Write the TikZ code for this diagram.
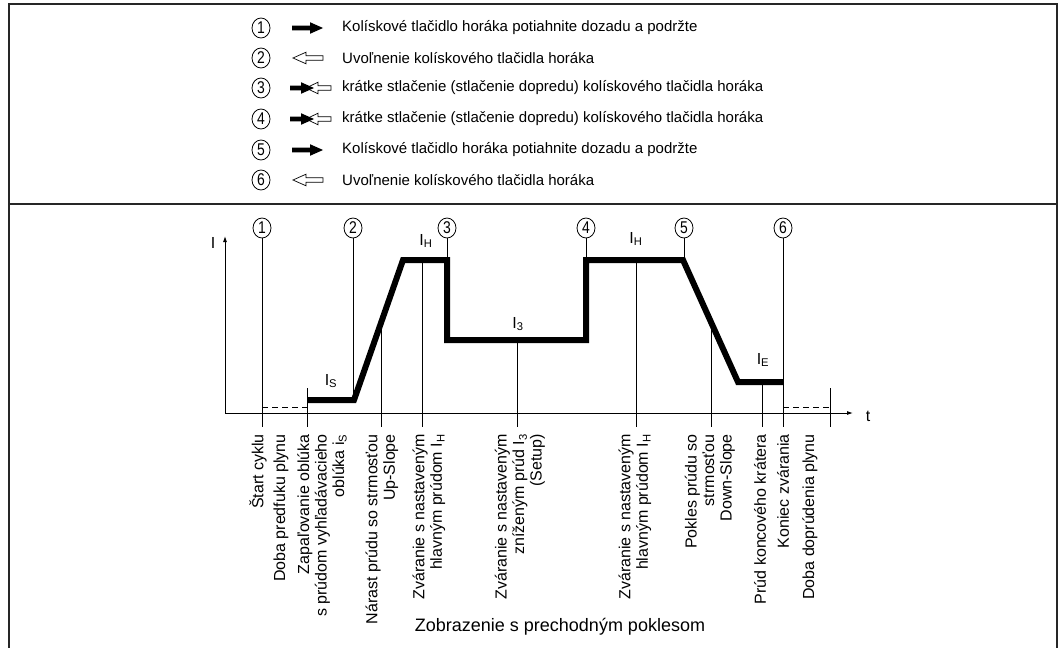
\documentclass[tikz,border=0pt]{standalone}
\usepackage{fontspec}
\setmainfont{Liberation Sans}
\usetikzlibrary{calc,arrows.meta,shapes.geometric}

\newcommand{\cnum}[1]{\scalebox{0.82}[1]{#1}}

\tikzset{
  frameline/.style={line width=2pt, draw=black!85},
  num/.style={ellipse, draw, line width=0.8pt, inner sep=0pt,
              minimum width=18pt, minimum height=20pt,
              font=\fontsize{17}{17}\selectfont},
  legtext/.style={anchor=west, inner sep=0pt, font=\fontsize{15}{18}\selectfont},
  thinline/.style={line width=0.9pt},
  trace/.style={line width=6pt},
  gasline/.style={line width=0.9pt, dash pattern=on 6pt off 4pt},
  axisline/.style={line width=0.9pt},
  phase/.style={rotate=90, anchor=east, align=right, inner sep=0pt,
                font=\fontsize{16}{17.5}\selectfont},
  curlab/.style={inner sep=0pt, font=\fontsize{16}{16}\selectfont},
  caption/.style={inner sep=0pt, font=\fontsize{18}{20}\selectfont},
  % solid arrow: pull the torch trigger back and hold
  pullarrow/.pic={
    \fill (0,-2.3) -- (18,-2.3) -- (18,-5.8) -- (31,0) -- (18,5.8) -- (18,2.3) -- (0,2.3) -- cycle;
  },
  % outlined arrow: release the trigger
  releasearrow/.pic={
    \filldraw[fill=white, line width=0.7pt]
      (0,0) -- (13,-5.8) -- (13,-2.3) -- (30,-2.3) -- (30,2.3) -- (13,2.3) -- (13,5.8) -- cycle;
  },
  % both arrows: short push forward
  pusharrow/.pic={
    \filldraw[fill=white, line width=0.7pt]
      (16,0) -- (28,-5.8) -- (28,-2.3) -- (41,-2.3) -- (41,2.3) -- (28,2.3) -- (28,5.8) -- cycle;
    \fill (0,-2.3) -- (11,-2.3) -- (11,-5.8) -- (24,0) -- (11,5.8) -- (11,2.3) -- (0,2.3) -- cycle;
  }
}

\begin{document}
\begin{tikzpicture}[x=1pt, y=-1pt]
\useasboundingbox (0,0) rectangle (1058,648);

% frame and divider
\draw[frameline] (9,660) -- (9,3.5) -- (1057,3.5) -- (1057,660);
\draw[frameline] (9,204) -- (1057,204);

% ---------- legend ----------
\node[num] (l1) at (261,28)  {\cnum{1}};
\node[num] (l2) at (261,58)  {\cnum{2}};
\node[num] (l3) at (261,88)  {\cnum{3}};
\node[num] (l4) at (261,119) {\cnum{4}};
\node[num] (l5) at (261,150) {\cnum{5}};
\node[num] (l6) at (261,180) {\cnum{6}};

\pic at (292,28)  {pullarrow};
\pic at (293,58)  {releasearrow};
\pic at (290,88)  {pusharrow};
\pic at (290,119) {pusharrow};
\pic at (292,150) {pullarrow};
\pic at (293,180) {releasearrow};

\node[legtext] (t1) at (342,28)  {Kolískové tlačidlo horáka potiahnite dozadu a podržte};
\node[legtext] (t2) at (342,58)  {Uvoľnenie kolískového tlačidla horáka};
\node[legtext] (t3) at (342,88)  {krátke stlačenie (stlačenie dopredu) kolískového tlačidla horáka};
\node[legtext] (t4) at (342,119) {krátke stlačenie (stlačenie dopredu) kolískového tlačidla horáka};
\node[legtext] (t5) at (342,150) {Kolískové tlačidlo horáka potiahnite dozadu a podržte};
\node[legtext] (t6) at (342,180) {Uvoľnenie kolískového tlačidla horáka};

% ---------- current diagram ----------
\coordinate (o)    at (225,413);
\coordinate (ytop) at (225,236);
\coordinate (xend) at (853,413);
\coordinate (tb)   at (0,427);
\coordinate (tt)   at (0,388);

\draw[axisline, {Latex[length=6pt,width=4pt]}-{Latex[length=6pt,width=4pt]}] (ytop) -- (o) -- (xend);
\node[curlab] (ilab) at (213,243) {I};
\node[curlab] (tlab) at (868,416) {t};

% trace corner points
\coordinate (s1) at (307,400);
\coordinate (s2) at (354,400);
\coordinate (h1) at (403,260);
\coordinate (h2) at (447,260);
\coordinate (d1) at (447,340);
\coordinate (d2) at (586,340);
\coordinate (u1) at (586,260);
\coordinate (u2) at (683,260);
\coordinate (e1) at (738,382);
\coordinate (e2) at (783,382);
\coordinate (g1) at (830,388);

% numbered events
\node[num] (c1) at (262,228) {\cnum{1}};
\node[num] (c2) at (353,228) {\cnum{2}};
\node[num] (c3) at (447,228) {\cnum{3}};
\node[num] (c4) at (586,228) {\cnum{4}};
\node[num] (c5) at (684,228) {\cnum{5}};
\node[num] (c6) at (783,228) {\cnum{6}};

\draw[thinline] (c1) -- (c1 |- tb);
\draw[thinline] (c2) -- (c2 |- s2);
\draw[thinline] (c3) -- (h2);
\draw[thinline] (c4) -- (u1);
\draw[thinline] (c5) -- (c5 |- u2);
\draw[thinline] (c6) -- (c6 |- tb);

% phase ticks
\coordinate (up) at ($(s2)!0.57!(h1)$);
\coordinate (hm) at (422,260);
\coordinate (rm) at (517,340);
\coordinate (hm2) at (636,260);
\coordinate (dn) at ($(u2)!0.51!(e1)$);
\coordinate (em) at (762,382);
\draw[thinline] (s1 |- tt) -- (s1 |- tb);
\draw[thinline] (up) -- (up |- tb);
\draw[thinline] (hm) -- (hm |- tb);
\draw[thinline] (rm) -- (rm |- tb);
\draw[thinline] (hm2) -- (hm2 |- tb);
\draw[thinline] (dn) -- (dn |- tb);
\draw[thinline] (em) -- (em |- tb);
\draw[thinline] (g1) -- (g1 |- tb);

% gas pre-flow and post-flow
\draw[gasline] (262,407) -- (307,407);
\draw[gasline] (783,407) -- (830,407);

% welding current
\draw[trace] (s1) -- (s2) -- (h1) -- (h2) -- (d1) -- (d2) -- (u1) -- (u2) -- (e1) -- (e2);

% current levels
\node[curlab] (is)  at (331,381) {I\textsubscript{S}};
\node[curlab] (ih)  at (426,241) {I\textsubscript{H}};
\node[curlab] (i3)  at (518,324) {I\textsubscript{3}};
\node[curlab] (ih2) at (636,239) {I\textsubscript{H}};
\node[curlab] (ie)  at (763,360) {I\textsubscript{E}};

% phase names
\node[phase] (p1)  at (258,434) {Štart cyklu};
\node[phase] (p2)  at (281,434) {Doba predfuku plynu};
\node[phase] (p3)  at (322,434) {Zapaľovanie oblúka\\ s prúdom vyhľadávacieho\\ oblúka i\textsubscript{S}};
\node[phase] (p4)  at (382,434) {Nárast prúdu so strmosťou\\ Up-Slope};
\node[phase] (p5)  at (429,434) {Zváranie s nastaveným\\ hlavným prúdom I\textsubscript{H}};
\node[phase] (p6)  at (520,434) {Zváranie s nastaveným\\ zníženým prúd I\textsubscript{3}\\ (Setup)};
\node[phase] (p7)  at (635,434) {Zváranie s nastaveným\\ hlavným prúdom I\textsubscript{H}};
\node[phase] (p8)  at (710,434) {Pokles prúdu so\\ strmosťou\\ Down-Slope};
\node[phase] (p9)  at (760,434) {Prúd koncového krátera};
\node[phase] (p10) at (783,434) {Koniec zvárania};
\node[phase] (p11) at (810,434) {Doba doprúdenia plynu};

\node[caption] (cap) at (560,627) {Zobrazenie s prechodným poklesom};
\end{tikzpicture}
\end{document}
